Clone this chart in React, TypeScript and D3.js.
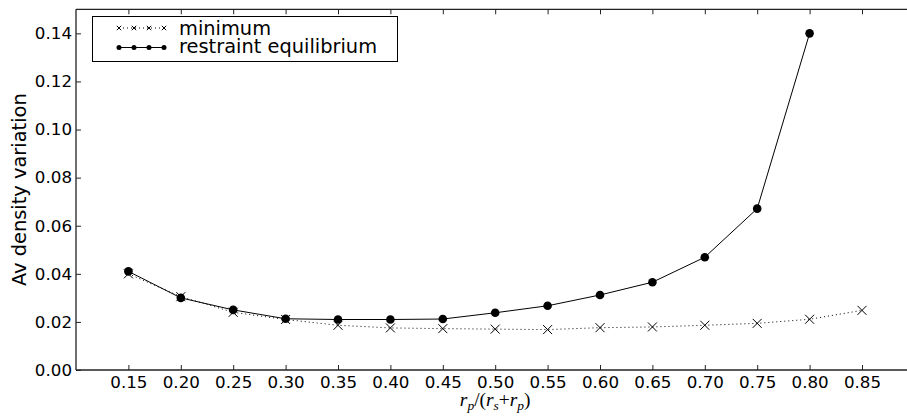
import { useEffect, useRef } from "react";
import * as d3 from "d3";

// x positions r_p/(r_s+r_p)
const ratios = [0.15, 0.2, 0.25, 0.3, 0.35, 0.4, 0.45, 0.5, 0.55, 0.6, 0.65, 0.7, 0.75, 0.8, 0.85];
const minimumValues = [0.040, 0.0305, 0.024, 0.021, 0.0186, 0.0175, 0.0172, 0.0170, 0.0168, 0.0176, 0.0179, 0.0186, 0.0194, 0.0211, 0.0248];
const restraintValues = [0.041, 0.030, 0.025, 0.0213, 0.021, 0.021, 0.0212, 0.0238, 0.0267, 0.0312, 0.0365, 0.0469, 0.0671, 0.140];
const xTicks = [0.15, 0.2, 0.25, 0.3, 0.35, 0.4, 0.45, 0.5, 0.55, 0.6, 0.65, 0.7, 0.75, 0.8, 0.85];
const yTicks = [0, 0.02, 0.04, 0.06, 0.08, 0.1, 0.12, 0.14];
const legendLabels = ["minimum", "restraint equilibrium"];

const W = 907;
const H = 419;
const FONT = "DejaVu Sans, sans-serif";

const Chart = () => {
  const ref = useRef<SVGSVGElement>(null);

  useEffect(() => {
    document.body.style.margin = "0";
    const svg = d3.select(ref.current);
    svg.selectAll("*").remove();

    const left = 76, top = 9.3, bottom = 370;
    const x = d3.scaleLinear().domain([0.1, 0.9]).range([left, left + 16 * 52.4]);
    const y = d3.scaleLinear().domain([0, 0.15]).range([bottom, top]);

    const spine = "#222";

    // axes with inward ticks
    const gx = svg.append("g").attr("transform", `translate(0,${bottom})`)
      .call(d3.axisBottom(x).tickValues(xTicks).tickSize(-5).tickPadding(6).tickFormat(d3.format(".2f")));
    const gxTop = svg.append("g").attr("transform", `translate(0,${top})`)
      .call(d3.axisTop(x).tickValues(xTicks).tickSize(-5).tickFormat(() => ""));
    const gy = svg.append("g").attr("transform", `translate(${left},0)`)
      .call(d3.axisLeft(y).tickValues(yTicks).tickSize(-5).tickPadding(4).tickFormat(d3.format(".2f")));

    [gx, gxTop, gy].forEach(g => {
      g.select(".domain").attr("stroke", spine).attr("stroke-width", 1.3);
      g.selectAll(".tick line").attr("stroke", spine).attr("stroke-width", 1);
      g.selectAll("text").attr("font-family", FONT).attr("font-size", 16.7).attr("fill", "#000");
    });
    // no end caps on the spines
    gx.select(".domain").attr("d", `M${left},0H${W + 20}`);
    gxTop.select(".domain").attr("d", `M${left},0H${W + 20}`);
    gy.select(".domain").attr("d", `M0,${top}V${bottom}`);

    const minData = ratios.map((r, i) => [r, minimumValues[i]] as [number, number]);
    const resData = restraintValues.map((v, i) => [ratios[i], v] as [number, number]);
    const line = d3.line<[number, number]>().x(d => x(d[0])).y(d => y(d[1]));

    // minimum series: dotted line with x markers
    svg.append("path").datum(minData)
      .attr("fill", "none").attr("stroke", "#000").attr("stroke-width", 1)
      .attr("stroke-dasharray", "1,3").attr("d", line);
    const cross = (g: d3.Selection<SVGGElement, unknown, null, undefined>, s: number) => {
      g.append("path").attr("d", `M${-s},${-s}L${s},${s}M${-s},${s}L${s},${-s}`)
        .attr("stroke", "#000").attr("stroke-width", 1).attr("fill", "none");
    };
    minData.forEach(d => {
      const g = svg.append("g").attr("transform", `translate(${x(d[0])},${y(d[1])})`);
      cross(g, 4.5);
    });

    // restraint equilibrium: solid line with filled circles
    svg.append("path").datum(resData)
      .attr("fill", "none").attr("stroke", "#000").attr("stroke-width", 1).attr("d", line);
    svg.selectAll(".dot").data(resData).enter().append("circle")
      .attr("cx", d => x(d[0])).attr("cy", d => y(d[1])).attr("r", 4.3).attr("fill", "#000");

    // legend
    const lg = svg.append("g");
    lg.append("rect").attr("x", 92.5).attr("y", 16.5).attr("width", 305).attr("height", 45)
      .attr("fill", "#fff").attr("stroke", "#000").attr("stroke-width", 1);
    const sampleX = [119, 134, 149, 164];
    const rowY = [28, 47.5];
    lg.append("line").attr("x1", 119).attr("x2", 164).attr("y1", rowY[0]).attr("y2", rowY[0])
      .attr("stroke", "#000").attr("stroke-dasharray", "1,3");
    sampleX.forEach(sx => {
      const g = lg.append("g").attr("transform", `translate(${sx},${rowY[0]})`);
      cross(g, 2.2);
    });
    lg.append("line").attr("x1", 119).attr("x2", 164).attr("y1", rowY[1]).attr("y2", rowY[1])
      .attr("stroke", "#000");
    sampleX.forEach(sx => {
      lg.append("circle").attr("cx", sx).attr("cy", rowY[1]).attr("r", 2.5).attr("fill", "#000");
    });
    const textY = [35, 53];
    legendLabels.forEach((t, i) => {
      lg.append("text").attr("x", 179).attr("y", textY[i]).text(t)
        .attr("font-family", FONT).attr("font-size", 19.4);
    });

    // axis labels
    svg.append("text")
      .attr("transform", `translate(26,${(top + bottom) / 2}) rotate(-90)`)
      .attr("text-anchor", "middle").attr("font-family", FONT).attr("font-size", 19.4)
      .text("Av density variation");

    const xl = svg.append("text").attr("x", (left + left + 16 * 52.4) / 2).attr("y", 406)
      .attr("text-anchor", "middle").attr("font-family", "Liberation Serif, serif")
      .attr("font-style", "italic").attr("font-size", 19.4);
    xl.append("tspan").text("r");
    xl.append("tspan").attr("dy", 4).attr("font-size", 13.5).text("p");
    xl.append("tspan").attr("dy", -4).attr("font-style", "normal").text("/(");
    xl.append("tspan").text("r");
    xl.append("tspan").attr("dy", 4).attr("font-size", 13.5).text("s");
    xl.append("tspan").attr("dy", -4).attr("font-style", "normal").text("+");
    xl.append("tspan").text("r");
    xl.append("tspan").attr("dy", 4).attr("font-size", 13.5).text("p");
    xl.append("tspan").attr("dy", -4).attr("font-style", "normal").text(")");
  }, []);

  return <svg ref={ref} width={W} height={H} style={{ display: "block", background: "#fff" }} />;
};

export default function App() {
  return <Chart />;
}
